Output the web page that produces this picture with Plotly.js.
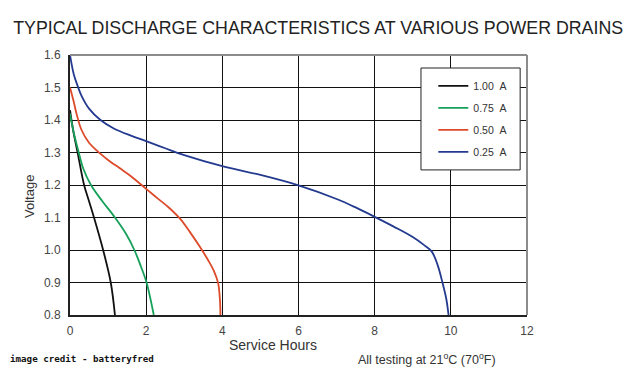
<!DOCTYPE html>
<html>
<head>
<meta charset="utf-8">
<script src="https://cdn.plot.ly/plotly-3.0.1.min.js"></script>
<style>html,body{margin:0;padding:0;background:#fff;}#chart{width:630px;height:373px;}</style>
</head>
<body>
<div id="chart"></div>
<script>
// Series names
const seriesNames = ["1.00\u00a0\u00a0A", "0.75\u00a0\u00a0A", "0.50\u00a0\u00a0A", "0.25\u00a0\u00a0A"];
// 1.00 A
const hours100 = [0, 0.08, 0.2, 0.37, 0.5, 0.63, 0.87, 1.07, 1.18];
const volts100 = [1.43, 1.37, 1.30, 1.20, 1.15, 1.10, 1.00, 0.90, 0.80];
// 0.75 A
const hours075 = [0, 0.1, 0.23, 0.35, 0.55, 0.85, 1.18, 1.47, 1.69, 1.86, 2.01, 2.2];
const volts075 = [1.42, 1.36, 1.30, 1.25, 1.20, 1.15, 1.10, 1.05, 1.00, 0.95, 0.90, 0.80];
// 0.50 A
const hours050 = [0, 0.09, 0.17, 0.3, 0.5, 0.78, 1.0, 1.3, 1.6, 2.0, 2.3, 2.6, 2.9, 3.15, 3.41, 3.62, 3.78, 3.89, 3.94, 3.95];
const volts050 = [1.50, 1.46, 1.42, 1.37, 1.33, 1.298, 1.277, 1.252, 1.227, 1.188, 1.159, 1.13, 1.095, 1.055, 1.01, 0.97, 0.935, 0.898, 0.84, 0.80];
// 0.25 A
const hours025 = [0, 0.1, 0.2, 0.3, 0.5, 0.8, 1.15, 1.6, 2.0, 2.5, 3.0, 4.0, 5.0, 6.0, 7.0, 7.5, 8.0, 8.5, 9.0, 9.3, 9.5, 9.65, 9.78, 9.88, 9.94];
const volts025 = [1.60, 1.54, 1.505, 1.475, 1.435, 1.40, 1.374, 1.352, 1.335, 1.313, 1.292, 1.258, 1.231, 1.199, 1.157, 1.131, 1.102, 1.072, 1.04, 1.015, 0.995, 0.955, 0.9, 0.85, 0.80];
// Axis ticks
const xTicks = [0, 2, 4, 6, 8, 10, 12];
const yTicks = [0.8, 0.9, 1.0, 1.1, 1.2, 1.3, 1.4, 1.5, 1.6];
const yTickLabels = ["0.8", "0.9", "1.0", "1.1", "1.2", "1.3", "1.4", "1.5", "1.6"];

const colors = ["#111111", "#17a05a", "#dd4a2a", "#233a8f"];
const xs = [hours100, hours075, hours050, hours025];
const ys = [volts100, volts075, volts050, volts025];

const traces = xs.map((x, i) => ({
  x: x, y: ys[i], type: "scatter", mode: "lines", name: seriesNames[i],
  legendgroup: "g" + i,
  line: {color: colors[i], width: 1.8, shape: "spline", smoothing: 1}
}));

const font = "Liberation Sans, Arial, sans-serif";
const layout = {
  width: 630, height: 373,
  margin: {l: 70, r: 103, t: 55, b: 58},
  paper_bgcolor: "#fff", plot_bgcolor: "#fff",
  font: {family: font, color: "#333", size: 12},
  title: {text: "TYPICAL DISCHARGE CHARACTERISTICS AT VARIOUS POWER DRAINS",
          font: {family: font, size: 17.8, color: "#222"},
          xref: "container", x: 0.505, xanchor: "center",
          yref: "container", y: 0.925, yanchor: "middle"},
  xaxis: {range: [0, 12], tickvals: xTicks, ticktext: xTicks.map(String),
          showgrid: true, gridcolor: "#111", gridwidth: 1, zeroline: false,
          showline: true, linecolor: "#222", linewidth: 2, ticks: "",
          ticklabelstandoff: 4, tickfont: {size: 12, color: "#444"}, fixedrange: true},
  yaxis: {range: [0.8, 1.6], tickvals: yTicks, ticktext: yTickLabels,
          showgrid: true, gridcolor: "#111", gridwidth: 1, zeroline: false,
          showline: true, linecolor: "#222", linewidth: 2, ticks: "",
          ticklabelstandoff: 5, tickfont: {size: 12, color: "#444"}, fixedrange: true},
  showlegend: true,
  legend: {x: 0.795, y: 0.937, xanchor: "left", yanchor: "top", bgcolor: "rgba(0,0,0,0)",
           borderwidth: 0, tracegroupgap: 3, font: {size: 10.5, color: "#333"}},
  shapes: [
    {type: "line", xref: "paper", yref: "paper", x0: 0, x1: 1, y0: 1, y1: 1, line: {color: "#8c8c8c", width: 2}},
    {type: "line", xref: "paper", yref: "paper", x0: 1, x1: 1, y0: 0, y1: 1, line: {color: "#8c8c8c", width: 2}},
    {type: "rect", xref: "paper", yref: "paper", x0: 0.768, x1: 0.985, y0: 0.558, y1: 0.95,
     line: {color: "#222", width: 1}, fillcolor: "#fff", layer: "above"}
  ],
  annotations: [
    {text: "Voltage", xref: "paper", yref: "paper", x: -0.0875, y: 0.454, textangle: -90,
     showarrow: false, xanchor: "center", yanchor: "middle", font: {size: 13, color: "#333"}},
    {text: "Service Hours", xref: "paper", yref: "paper", x: 0.444, y: -0.115,
     showarrow: false, xanchor: "center", yanchor: "middle", font: {size: 14, color: "#333"}},
    {text: "All testing at 21<sup>o</sup>C (70<sup>o</sup>F)", xref: "paper", yref: "paper", x: 0.781, y: -0.17,
     showarrow: false, xanchor: "center", yanchor: "middle", font: {size: 12.5, color: "#333"}},
    {text: "<b>image credit - batteryfred</b>", xref: "paper", yref: "paper", x: -0.1357, y: -0.169,
     showarrow: false, xanchor: "left", yanchor: "middle", font: {family: "DejaVu Sans Mono, monospace", size: 9.2, color: "#111"}}
  ]
};
Plotly.newPlot("chart", traces, layout, {displayModeBar: false, staticPlot: true});
</script>
</body>
</html>
